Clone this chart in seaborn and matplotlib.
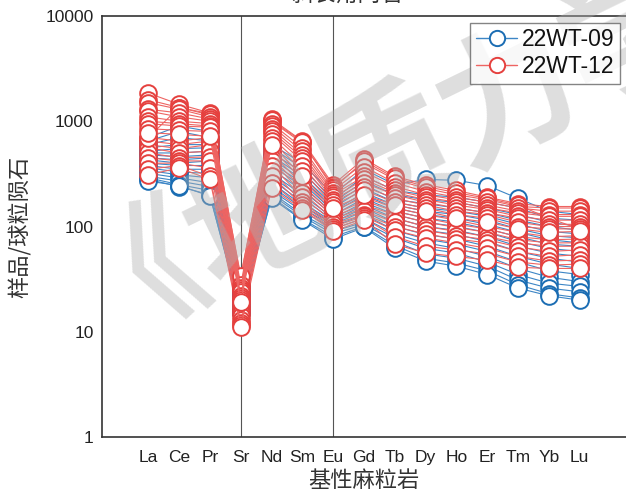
import numpy as np
import pandas as pd
import matplotlib
matplotlib.use("Agg")
import matplotlib.pyplot as plt
from matplotlib.lines import Line2D
import seaborn as sns

elements = ["La", "Ce", "Pr", "Sr", "Nd", "Sm", "Eu", "Gd", "Tb", "Dy", "Ho", "Er", "Tm", "Yb", "Lu"]

# 22WT-09 (blue) chondrite-normalised values
wt09 = [
    [700, 900, 800, 30, 600, 400, 200, 350, 250, 280, 275, 245, 185, 140, 130],
    [650, 800, 700, 28, 560, 360, 180, 300, 220, 200, 190, 170, 150, 120, 115],
    [600, 700, 650, 27, 500, 330, 170, 270, 200, 180, 170, 150, 130, 110, 100],
    [560, 600, 600, 26, 470, 300, 160, 250, 180, 165, 150, 135, 115, 100, 92],
    [520, 550, 560, 25, 440, 280, 150, 230, 170, 150, 140, 125, 105, 90, 85],
    [500, 500, 520, 24, 400, 260, 140, 210, 160, 140, 130, 115, 95, 82, 78],
    [480, 460, 480, 23, 380, 240, 135, 200, 150, 130, 120, 105, 88, 75, 70],
    [450, 430, 450, 22, 350, 220, 128, 185, 140, 120, 110, 95, 80, 68, 65],
    [430, 400, 420, 21, 320, 200, 120, 170, 130, 110, 100, 88, 72, 62, 58],
    [400, 380, 380, 20, 300, 185, 115, 160, 120, 100, 92, 80, 65, 56, 52],
    [380, 350, 350, 19, 280, 170, 110, 150, 110, 92, 84, 72, 58, 50, 46],
    [360, 330, 320, 18, 260, 160, 105, 140, 100, 84, 76, 65, 52, 44, 40],
    [340, 310, 290, 17, 240, 150, 100, 130, 92, 76, 68, 58, 46, 38, 35],
    [320, 290, 260, 16, 220, 140, 95, 120, 85, 70, 62, 52, 40, 33, 30],
    [300, 270, 240, 16, 210, 130, 90, 110, 78, 62, 56, 46, 35, 29, 27],
    [290, 250, 220, 15, 200, 125, 85, 105, 72, 55, 50, 42, 31, 26, 24],
    [280, 240, 200, 15, 190, 118, 80, 100, 66, 50, 45, 38, 28, 23, 21],
    [270, 245, 195, 16, 185, 115, 76, 98, 62, 47, 42, 35, 26, 22, 20],
]

# 22WT-12 (red) chondrite-normalised values
wt12 = [
    [1850, 1450, 1200, 33, 1050, 650, 250, 440, 300, 250, 220, 190, 165, 155, 155],
    [1600, 1350, 1150, 30, 1000, 620, 240, 400, 280, 230, 200, 180, 155, 150, 150],
    [1500, 1300, 1100, 28, 950, 560, 220, 370, 260, 215, 190, 170, 150, 140, 140],
    [1300, 1200, 1050, 26, 900, 520, 210, 330, 240, 200, 180, 160, 140, 130, 130],
    [1250, 1100, 1000, 25, 850, 480, 200, 300, 220, 190, 170, 150, 135, 125, 125],
    [1100, 1000, 950, 24, 800, 450, 190, 280, 210, 180, 160, 145, 125, 115, 115],
    [1000, 950, 900, 22, 760, 420, 180, 260, 200, 170, 150, 135, 120, 105, 105],
    [950, 900, 880, 21, 700, 380, 170, 240, 185, 160, 140, 130, 110, 100, 100],
    [850, 820, 800, 20, 650, 340, 160, 220, 170, 150, 130, 120, 100, 95, 95],
    [780, 750, 720, 19, 600, 300, 150, 200, 160, 140, 120, 110, 95, 88, 90],
    [700, 650, 700, 18, 550, 280, 140, 190, 150, 130, 115, 100, 88, 80, 82],
    [650, 600, 650, 17, 500, 250, 130, 175, 140, 120, 105, 95, 80, 75, 76],
    [600, 550, 600, 16, 450, 230, 125, 160, 130, 110, 98, 88, 75, 70, 70],
    [560, 500, 520, 15, 420, 210, 118, 150, 120, 100, 90, 80, 70, 65, 65],
    [500, 450, 460, 14, 380, 190, 112, 140, 110, 92, 82, 75, 64, 58, 60],
    [450, 420, 420, 13, 340, 170, 105, 130, 100, 85, 76, 70, 58, 52, 54],
    [400, 400, 360, 12, 300, 160, 100, 125, 92, 78, 70, 62, 52, 47, 48],
    [350, 380, 300, 11.5, 260, 150, 95, 120, 80, 65, 60, 55, 46, 43, 44],
    [310, 360, 280, 11, 230, 145, 90, 115, 68, 56, 52, 48, 41, 40, 40],
    [700, 1350, 1180, 34, 1020, 640, 230, 420, 290, 240, 210, 185, 160, 120, 95],
]

groups = ["22WT-09", "22WT-12"]
yticks = [1, 10, 100, 1000, 10000]
ytick_labels = ["1", "10", "100", "1000", "10000"]

rows = []
for g, data in zip(groups, [wt09, wt12]):
    for i, sample in enumerate(data):
        for j, v in enumerate(sample):
            rows.append({"group": g, "sample": f"{g}_{i}", "pos": j, "value": v})
df = pd.DataFrame(rows)

sns.set_style("white")
plt.rcParams["font.family"] = ["Liberation Sans", "Noto Sans CJK SC", "DejaVu Sans"]

solid = {"22WT-09": "#1b6db3", "22WT-12": "#e5403e"}
light = {"22WT-09": "#3d86c6", "22WT-12": "#ee6462"}

fig = plt.figure(figsize=(6.26, 4.99), dpi=100)
ax = fig.add_axes([0.163, 0.124, 0.837, 0.844])

for g in groups:
    sub = df[df["group"] == g]
    n0 = len(ax.lines)
    sns.lineplot(data=sub, x="pos", y="value", units="sample", estimator=None,
                 color=solid[g], marker="o", markersize=12, linewidth=0.8,
                 sort=False, legend=False, ax=ax)
    for ln in ax.lines[n0:]:
        ln.set_color(light[g])
        ln.set_markeredgecolor(solid[g])
        ln.set_markerfacecolor("white")
        ln.set_markeredgewidth(1.4)

ax.set_yscale("log")
ax.set_ylim(1, 10000)
ax.set_xlim(-1.5, 15.5)
ax.set_yticks(yticks)
ax.set_yticklabels(ytick_labels)
ax.set_xticks(range(len(elements)))
ax.set_xticklabels(elements)

for k in [elements.index("Sr"), elements.index("Eu")]:
    ax.axvline(k, color="#555555", lw=0.8, zorder=0)

ax.tick_params(axis="both", which="major", direction="in", length=7, width=1.0,
               labelsize=12.5, colors="#222222", pad=6)
ax.tick_params(axis="y", which="minor", direction="in", length=4, width=0.8, colors="#222222")
ax.tick_params(axis="x", which="major", pad=9)
for s in ["left", "bottom", "top"]:
    ax.spines[s].set_color("#333333")
    ax.spines[s].set_linewidth(1.2)
ax.spines["right"].set_visible(False)

ax.set_xlabel("基性麻粒岩", fontsize=16, family=["Noto Sans CJK SC"], color="#333333", labelpad=3)
ax.set_ylabel("样品/球粒陨石", fontsize=16, family=["Noto Sans CJK SC"], color="#333333", labelpad=10)

handles = [Line2D([0], [0], color=light[g], lw=1.0, marker="o", markersize=11,
                  markerfacecolor="white", markeredgecolor=solid[g], markeredgewidth=1.4)
           for g in groups]
leg = ax.legend(handles, groups, loc="upper right", bbox_to_anchor=(0.998, 0.995),
                fontsize=16.5, frameon=True, fancybox=False, handlelength=1.8,
                handletextpad=0.2, borderpad=0.25, labelspacing=0.15, borderaxespad=0.2)
leg.get_frame().set_edgecolor("#666666")
leg.get_frame().set_linewidth(1.0)
leg.set_zorder(6)
for t in leg.get_texts():
    t.set_color("#111111")

fig.text(0.555, 1.012, "斜长角闪岩", ha="center", va="center", fontsize=16,
         family=["Noto Sans CJK SC"], color="#333333")

ax.text(0.105, 0.43, "《地质力学学报》", transform=fig.transFigure, ha="left", va="center",
        fontsize=100, family=["Noto Sans CJK SC"], fontweight="bold", color="#b0b0b0",
        alpha=0.42, rotation=26, rotation_mode="anchor", zorder=4, clip_on=False)

fig.savefig("out.png", dpi=100)
